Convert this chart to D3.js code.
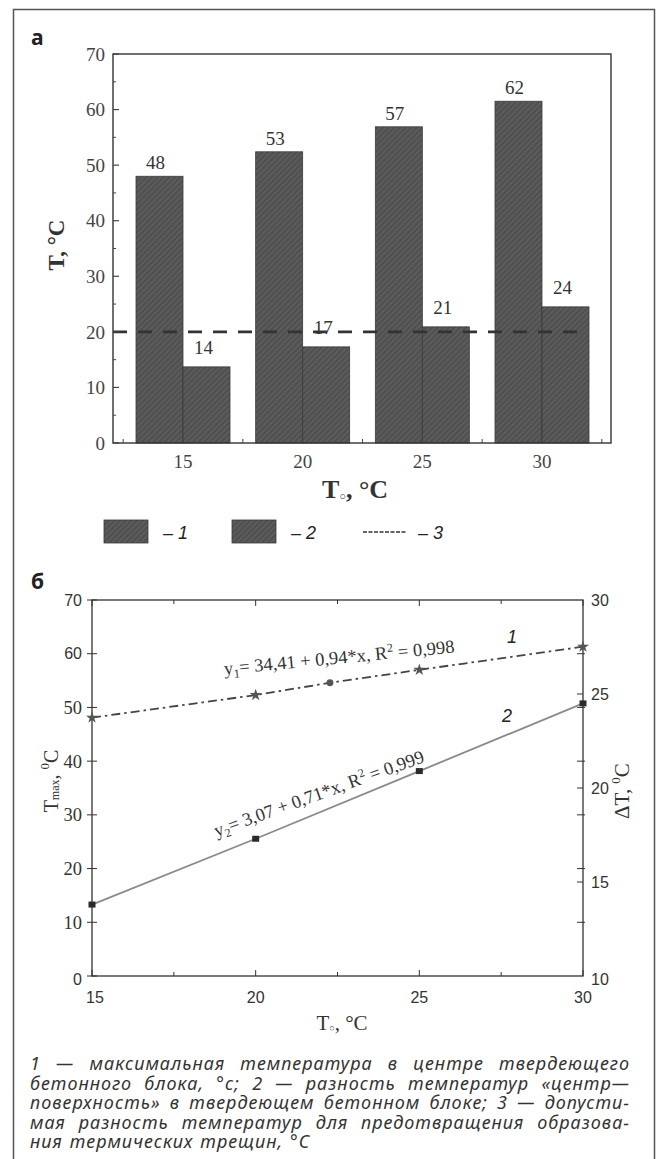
<!DOCTYPE html>
<html><head><meta charset="utf-8">
<script src="https://cdn.jsdelivr.net/npm/d3@7"></script>
<style>body{margin:0;background:#fff}svg{display:block}</style>
</head><body>
<script>
// ---------- data: chart (а) ----------
const categories = [15, 20, 25, 30];
const centerTemp = [48, 52.4, 56.9, 61.5];      // series 1
const tempDiff = [13.7, 17.3, 20.9, 24.5];      // series 2
const centerLabels = ["48", "53", "57", "62"];
const diffLabels = ["14", "17", "21", "24"];
const allowedDiff = 20;                          // series 3
const yTicksA = [0, 10, 20, 30, 40, 50, 60, 70];
const yMinorA = [5, 15, 25, 35, 45, 55, 65];
const xMinorA = [12.5, 17.5, 22.5, 27.5, 32.5];
const legendLabels = ["1", "2", "3"];

// ---------- data: chart (б) ----------
const lineX = [15, 20, 25, 30];
const tMaxLine = [48.1, 52.3, 57.0, 61.3];
const extraPoint = {x: 22.27, y: 54.6};
const dTLine = [13.8, 17.3, 20.9, 24.5];
const xTicksB = [15, 20, 25, 30];
const xMinorB = [17.5, 22.5, 27.5];
const yLeftTicksB = [0, 10, 20, 30, 40, 50, 60, 70];
const yRightTicksB = [10, 15, 20, 25, 30];
const eq1 = {x: 19.05, y: 56.1, parts: ["y", "1", "= 34,41 + 0,94*x, R", "2", " = 0,998"]};
const eq2 = {x: 18.8, y: 25.9, parts: ["y", "2", "= 3,07 + 0,71*x, R", "2", " = 0,999"]};

const captionLines = [
  "1 — максимальная температура в центре твердеющего",
  "бетонного блока, °с; 2 — разность температур «центр—",
  "поверхность» в твердеющем бетонном блоке; 3 — допусти-",
  "мая разность температур для предотвращения образова-",
  "ния термических трещин, °С"
];

const W = 660, H = 1159;
const svg = d3.select("body").append("svg").attr("width", W).attr("height", H);
const serif = "'Liberation Serif','Times New Roman',serif";
const sans = "'Liberation Sans',Arial,sans-serif";

// hatch pattern
const defs = svg.append("defs");
const pat = defs.append("pattern").attr("id", "hatch").attr("patternUnits", "userSpaceOnUse")
  .attr("width", 4).attr("height", 4).attr("patternTransform", "rotate(45)");
pat.append("rect").attr("width", 4).attr("height", 4).attr("fill", "#5c5c5c");
pat.append("line").attr("x1", 1).attr("y1", 0).attr("x2", 1).attr("y2", 4)
  .attr("stroke", "#474747").attr("stroke-width", 1.3);

// outer border
svg.append("rect").attr("x", 13.5).attr("y", 9.5).attr("width", 641).attr("height", 1170)
  .attr("fill", "none").attr("stroke", "#555").attr("stroke-width", 1.5);

// ================= chart а =================
const A = {l: 113, r: 611, t: 54, b: 443};
const xA = d3.scaleLinear().domain([15, 30]).range([183, 542]);
const yA = d3.scaleLinear().domain([0, 70]).range([A.b, A.t]);
const barW = 47;
const gA = svg.append("g");

svg.append("text").attr("x", 31).attr("y", 45).text("а")
  .attr("font-family", "'Open Sans',sans-serif").attr("font-weight", 700).attr("font-size", 21).attr("fill", "#222");

// bars
gA.selectAll("rect.b1").data(categories).join("rect").attr("class", "b1")
  .attr("x", d => xA(d) - barW).attr("width", barW)
  .attr("y", (d, i) => yA(centerTemp[i])).attr("height", (d, i) => yA(0) - yA(centerTemp[i]))
  .attr("fill", "url(#hatch)").attr("stroke", "#3a3a3a").attr("stroke-width", 0.8);
gA.selectAll("rect.b2").data(categories).join("rect").attr("class", "b2")
  .attr("x", d => xA(d)).attr("width", barW)
  .attr("y", (d, i) => yA(tempDiff[i])).attr("height", (d, i) => yA(0) - yA(tempDiff[i]))
  .attr("fill", "url(#hatch)").attr("stroke", "#3a3a3a").attr("stroke-width", 0.8);

// value labels
gA.selectAll("text.l1").data(categories).join("text").attr("class", "l1")
  .attr("x", d => xA(d) - barW / 2 - 4).attr("y", (d, i) => yA(centerTemp[i]) - 7)
  .attr("text-anchor", "middle").attr("font-family", serif).attr("font-size", 19).attr("fill", "#333")
  .text((d, i) => centerLabels[i]);
gA.selectAll("text.l2").data(categories).join("text").attr("class", "l2")
  .attr("x", d => xA(d) + barW / 2 - 3).attr("y", (d, i) => yA(tempDiff[i]) - 13)
  .attr("text-anchor", "middle").attr("font-family", serif).attr("font-size", 19).attr("fill", "#333")
  .text((d, i) => diffLabels[i]);

// dashed allowed line
gA.append("line").attr("x1", A.l).attr("x2", 578).attr("y1", yA(allowedDiff)).attr("y2", yA(allowedDiff))
  .attr("stroke", "#333").attr("stroke-width", 2.6).attr("stroke-dasharray", "14,11");

// frame
gA.append("rect").attr("x", A.l).attr("y", A.t).attr("width", A.r - A.l).attr("height", A.b - A.t)
  .attr("fill", "none").attr("stroke", "#333").attr("stroke-width", 1.4);

// y ticks
gA.selectAll("line.yt").data(yTicksA).join("line").attr("x1", A.l).attr("x2", A.l + 6)
  .attr("y1", d => yA(d)).attr("y2", d => yA(d)).attr("stroke", "#444").attr("stroke-width", 1.2);
gA.selectAll("line.ym").data(yMinorA).join("line").attr("x1", A.l).attr("x2", A.l + 3)
  .attr("y1", d => yA(d)).attr("y2", d => yA(d)).attr("stroke", "#444").attr("stroke-width", 1);
gA.selectAll("text.yl").data(yTicksA).join("text").attr("x", 105).attr("y", d => yA(d))
  .attr("dy", "0.35em").attr("text-anchor", "end").attr("font-family", serif).attr("font-size", 19)
  .attr("fill", "#444").text(d => d);
// x ticks
gA.selectAll("line.xm").data(xMinorA).join("line").attr("x1", d => xA(d)).attr("x2", d => xA(d))
  .attr("y1", A.b).attr("y2", A.b - 4).attr("stroke", "#444").attr("stroke-width", 1);
gA.selectAll("text.xl").data(categories).join("text").attr("x", d => xA(d)).attr("y", 468)
  .attr("text-anchor", "middle").attr("font-family", serif).attr("font-size", 19)
  .attr("fill", "#444").text(d => d);

// axis titles
const tA = gA.append("text").attr("transform", "translate(56,245) rotate(-90)")
  .attr("text-anchor", "middle").attr("dominant-baseline", "central")
  .attr("font-family", serif).attr("font-weight", 700).attr("font-size", 23).attr("fill", "#333");
tA.text("T, °C");
const xtA = gA.append("text").attr("x", 355).attr("y", 498).attr("text-anchor", "middle")
  .attr("font-family", serif).attr("font-weight", 700).attr("font-size", 26).attr("fill", "#333");
xtA.append("tspan").text("T");
xtA.append("tspan").text("○").attr("font-size", 11).attr("font-weight", 400).attr("dy", 2);
xtA.append("tspan").text(", °C").attr("dy", -2);

// legend
const lg = svg.append("g");
[104, 232].forEach((x, i) => {
  lg.append("rect").attr("x", x).attr("y", 520).attr("width", 44).attr("height", 23)
    .attr("fill", "url(#hatch)").attr("stroke", "#3a3a3a").attr("stroke-width", 0.8);
  lg.append("text").attr("x", x + 59).attr("y", 539).attr("font-family", sans).attr("font-style", "italic")
    .attr("font-size", 18).attr("fill", "#222").text("– " + legendLabels[i]);
});
lg.append("line").attr("x1", 363).attr("x2", 407).attr("y1", 532).attr("y2", 532)
  .attr("stroke", "#333").attr("stroke-width", 1.6).attr("stroke-dasharray", "4,1.5");
lg.append("text").attr("x", 418).attr("y", 539).attr("font-family", sans).attr("font-style", "italic")
  .attr("font-size", 18).attr("fill", "#222").text("– " + legendLabels[2]);

// ================= chart б =================
const B = {l: 92, r: 583, t: 600, b: 976};
const xB = d3.scaleLinear().domain([15, 30]).range([B.l, B.r]);
const yL = d3.scaleLinear().domain([0, 70]).range([B.b, B.t]);
const yR = d3.scaleLinear().domain([10, 30]).range([B.b, B.t]);
const gB = svg.append("g");

svg.append("text").attr("x", 31).attr("y", 589).text("б")
  .attr("font-family", "'Open Sans',sans-serif").attr("font-weight", 700).attr("font-size", 21).attr("fill", "#222");

gB.append("rect").attr("x", B.l).attr("y", B.t).attr("width", B.r - B.l).attr("height", B.b - B.t)
  .attr("fill", "none").attr("stroke", "#333").attr("stroke-width", 1.3);

// x ticks top & bottom
const xAllB = xTicksB.concat(xMinorB);
gB.selectAll("line.xtb").data(xAllB).join("line").attr("x1", d => xB(d)).attr("x2", d => xB(d))
  .attr("y1", B.b).attr("y2", d => B.b - (d % 5 === 0 ? 6 : 4)).attr("stroke", "#333").attr("stroke-width", 1);
gB.selectAll("line.xtt").data(xAllB).join("line").attr("x1", d => xB(d)).attr("x2", d => xB(d))
  .attr("y1", B.t).attr("y2", d => B.t + (d % 5 === 0 ? 6 : 4)).attr("stroke", "#333").attr("stroke-width", 1);
gB.selectAll("text.xlb").data(xTicksB).join("text").attr("x", d => xB(d) + (d === 15 ? 3 : 0)).attr("y", 1003)
  .attr("text-anchor", "middle").attr("font-family", sans).attr("font-size", 16).attr("fill", "#333").text(d => d);

// left ticks
gB.selectAll("line.ylt").data(yLeftTicksB).join("line").attr("x1", B.l - 5).attr("x2", B.l + 5)
  .attr("y1", d => yL(d)).attr("y2", d => yL(d)).attr("stroke", "#333").attr("stroke-width", 1);
gB.selectAll("text.yll").data(yLeftTicksB).join("text").attr("x", 82).attr("y", d => yL(d) + (d === 0 ? 3 : 0))
  .attr("dy", "0.35em").attr("text-anchor", "end")
  .attr("font-family", d => (d === 0 || d >= 60) ? sans : serif)
  .attr("font-size", d => (d === 0 || d >= 60) ? 16 : 18.5).attr("fill", "#333").text(d => d);
// right ticks
gB.selectAll("line.yrt1").data(yLeftTicksB.slice(1, 7)).join("line").attr("x1", B.r - 6).attr("x2", B.r + 2)
  .attr("y1", d => yL(d)).attr("y2", d => yL(d)).attr("stroke", "#333").attr("stroke-width", 1);
gB.selectAll("line.yrt2").data(yRightTicksB.slice(1, 4)).join("line").attr("x1", B.r - 6).attr("x2", B.r)
  .attr("y1", d => yR(d)).attr("y2", d => yR(d)).attr("stroke", "#333").attr("stroke-width", 1);
gB.selectAll("text.yrl").data(yRightTicksB).join("text").attr("x", 591).attr("y", d => yR(d) + (d === 10 ? 3 : 0))
  .attr("dy", "0.35em").attr("font-family", sans).attr("font-size", 16).attr("fill", "#333").text(d => d);

// lines
const pts1 = lineX.map((x, i) => ({x, y: tMaxLine[i]})).concat([extraPoint]).sort((a, b) => a.x - b.x);
gB.append("path").datum(pts1)
  .attr("d", d3.line().x(d => xB(d.x)).y(d => yL(d.y)))
  .attr("fill", "none").attr("stroke", "#444").attr("stroke-width", 1.8).attr("stroke-dasharray", "9,4,2.5,4");
const pts2 = lineX.map((x, i) => ({x, y: dTLine[i]}));
gB.append("path").datum(pts2)
  .attr("d", d3.line().x(d => xB(d.x)).y(d => yR(d.y)))
  .attr("fill", "none").attr("stroke", "#8a8a8a").attr("stroke-width", 1.8);

// markers
gB.selectAll("path.star").data(lineX.map((x, i) => ({x, y: tMaxLine[i]}))).join("path")
  .attr("transform", d => `translate(${xB(d.x)},${yL(d.y)})`)
  .attr("d", d3.symbol(d3.symbolStar, 45)).attr("fill", "#555");
gB.append("path").attr("transform", `translate(${xB(extraPoint.x)},${yL(extraPoint.y)})`)
  .attr("d", d3.symbol(d3.symbolCircle, 38)).attr("fill", "#555");
gB.selectAll("rect.sq").data(pts2).join("rect")
  .attr("x", d => xB(d.x) - 3.5).attr("y", d => yR(d.y) - 3).attr("width", 7).attr("height", 6).attr("fill", "#2a2a2a");

// equations
function eq(e, angle) {
  const t = gB.append("text")
    .attr("transform", `translate(${xB(e.x)},${yL(e.y)}) rotate(${angle})`)
    .attr("font-family", serif).attr("font-size", 18.5).attr("fill", "#333");
  t.append("tspan").text(e.parts[0]);
  t.append("tspan").text(e.parts[1]).attr("font-size", 12).attr("dy", 4);
  t.append("tspan").text(e.parts[2]).attr("dy", -4);
  t.append("tspan").text(e.parts[3]).attr("font-size", 12).attr("dy", -7);
  t.append("tspan").text(e.parts[4]).attr("dy", 7);
}
eq(eq1, -5.5);
eq(eq2, -19.8);

gB.append("text").attr("x", 507).attr("y", 643).attr("font-family", sans).attr("font-style", "italic")
  .attr("font-size", 18).attr("fill", "#222").text("1");
gB.append("text").attr("x", 502).attr("y", 722).attr("font-family", sans).attr("font-style", "italic")
  .attr("font-size", 18).attr("fill", "#222").text("2");

// axis titles
const tl = gB.append("text").attr("transform", "translate(51,781) rotate(-90)")
  .attr("text-anchor", "middle").attr("dominant-baseline", "central")
  .attr("font-family", serif).attr("font-size", 20).attr("fill", "#333");
tl.append("tspan").text("T");
tl.append("tspan").text("max").attr("font-size", 12).attr("dy", 4);
tl.append("tspan").text(", ").attr("dy", -4);
tl.append("tspan").text("0").attr("font-size", 13).attr("dy", -7);
tl.append("tspan").text("C").attr("dy", 7);

const tr = gB.append("text").attr("transform", "translate(622,791) rotate(-90)")
  .attr("text-anchor", "middle").attr("dominant-baseline", "central")
  .attr("font-family", serif).attr("font-size", 21).attr("fill", "#333");
tr.append("tspan").text("ΔT, ");
tr.append("tspan").text("0").attr("font-size", 13).attr("dy", -7);
tr.append("tspan").text("C").attr("dy", 7);

const xtB = gB.append("text").attr("x", 342).attr("y", 1030).attr("text-anchor", "middle")
  .attr("font-family", serif).attr("font-size", 21).attr("fill", "#333");
xtB.append("tspan").text("T");
xtB.append("tspan").text("○").attr("font-size", 9).attr("dy", 1);
xtB.append("tspan").text(", °C").attr("dy", -1);

// ================= caption =================
const cap = svg.append("g").attr("font-family", "'Noto Sans',sans-serif").attr("font-style", "italic")
  .attr("font-size", 18).attr("letter-spacing", 1).attr("fill", "#333");
const cx0 = 30, cx1 = 630;
captionLines.forEach((line, li) => {
  const y = 1070 + li * 19.5;
  const words = line.split(" ");
  const nodes = words.map(w => cap.append("text").attr("y", y).text(w));
  const widths = nodes.map(n => n.node().getComputedTextLength());
  const total = d3.sum(widths);
  const last = li === captionLines.length - 1;
  const gap = last ? 7 : (cx1 - cx0 - total) / (words.length - 1);
  let x = cx0;
  nodes.forEach((n, i) => { n.attr("x", x); x += widths[i] + gap; });
});
</script>
</body></html>
